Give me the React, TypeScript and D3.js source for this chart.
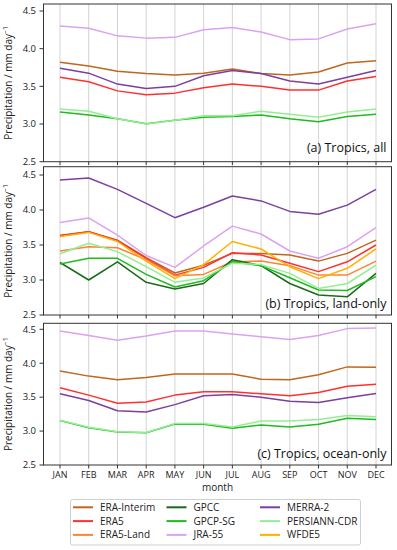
import React from 'react';
import * as d3 from 'd3';

const months = ['JAN', 'FEB', 'MAR', 'APR', 'MAY', 'JUN', 'JUL', 'AUG', 'SEP', 'OCT', 'NOV', 'DEC'];
const datasets = ['ERA-Interim', 'ERA5', 'ERA5-Land', 'GPCC', 'GPCP-SG', 'JRA-55', 'MERRA-2', 'PERSIANN-CDR', 'WFDE5'];
const colors = ['#c0661e', '#ff3030', '#ff8430', '#1b6a1b', '#1fbb1f', '#dca2f0', '#7d3f9f', '#94ee94', '#ffb000'];
const yTicks = [2.5, 3.0, 3.5, 4.0, 4.5];

// (a) tropics, all
const eraInterimAll = [3.82, 3.77, 3.70, 3.67, 3.65, 3.675, 3.73, 3.67, 3.65, 3.69, 3.81, 3.84];
const era5All = [3.62, 3.56, 3.44, 3.39, 3.41, 3.48, 3.53, 3.50, 3.45, 3.45, 3.57, 3.63];
const gpcpAll = [3.16, 3.12, 3.07, 3.005, 3.05, 3.09, 3.10, 3.12, 3.07, 3.03, 3.10, 3.13];
const jraAll = [4.30, 4.27, 4.17, 4.14, 4.15, 4.25, 4.28, 4.22, 4.12, 4.13, 4.26, 4.33];
const merraAll = [3.74, 3.675, 3.53, 3.47, 3.50, 3.64, 3.71, 3.67, 3.57, 3.53, 3.62, 3.71];
const persiannAll = [3.20, 3.17, 3.07, 3.00, 3.05, 3.11, 3.11, 3.17, 3.13, 3.09, 3.16, 3.20];

// (b) tropics, land-only
const eraInterimLand = [3.64, 3.69, 3.57, 3.32, 3.10, 3.21, 3.38, 3.38, 3.357, 3.27, 3.38, 3.57];
const era5Land = [3.63, 3.69, 3.56, 3.31, 3.07, 3.18, 3.39, 3.357, 3.238, 3.12, 3.26, 3.50];
const era5LandLand = [3.414, 3.476, 3.46, 3.29, 3.06, 3.08, 3.26, 3.27, 3.205, 3.07, 3.07, 3.27];
const gpccLand = [3.25, 3.00, 3.26, 2.967, 2.87, 2.95, 3.29, 3.205, 2.95, 2.786, 2.76, 3.095];
const gpcpLand = [3.23, 3.31, 3.31, 3.08, 2.90, 2.99, 3.26, 3.205, 3.033, 2.857, 2.85, 3.048];
const jraLand = [3.82, 3.886, 3.64, 3.35, 3.18, 3.486, 3.77, 3.657, 3.414, 3.31, 3.476, 3.748];
const merraLand = [4.43, 4.457, 4.295, 4.095, 3.89, 4.04, 4.20, 4.13, 3.98, 3.94, 4.07, 4.295];
const persiannLand = [3.376, 3.524, 3.405, 3.19, 2.967, 3.03, 3.24, 3.22, 3.095, 2.88, 2.95, 3.214];
const wfde5Land = [3.62, 3.68, 3.55, 3.27, 3.02, 3.22, 3.55, 3.443, 3.19, 3.02, 3.167, 3.443];

// (c) tropics, ocean-only
const eraInterimOcean = [3.887, 3.81, 3.755, 3.79, 3.84, 3.84, 3.84, 3.765, 3.755, 3.83, 3.946, 3.94];
const era5Ocean = [3.64, 3.53, 3.41, 3.43, 3.53, 3.58, 3.58, 3.55, 3.52, 3.57, 3.66, 3.69];
const gpcpOcean = [3.155, 3.05, 2.985, 2.975, 3.105, 3.10, 3.04, 3.09, 3.06, 3.10, 3.19, 3.17];
const jraOcean = [4.475, 4.41, 4.34, 4.40, 4.475, 4.475, 4.43, 4.39, 4.35, 4.41, 4.51, 4.52];
const merraOcean = [3.55, 3.45, 3.30, 3.28, 3.39, 3.52, 3.54, 3.50, 3.44, 3.42, 3.49, 3.555];
const persiannOcean = [3.16, 3.055, 2.99, 2.98, 3.11, 3.11, 3.06, 3.15, 3.15, 3.17, 3.23, 3.21];

const panels = [
  { label: '(a) Tropics, all', top: 4, y45: 11, bottom: 161.7, labelY: 152,
    series: [eraInterimAll, era5All, null, null, gpcpAll, jraAll, merraAll, persiannAll, null] },
  { label: '(b) Tropics, land-only', top: 166.7, y45: 175, bottom: 315, labelY: 308,
    series: [eraInterimLand, era5Land, era5LandLand, gpccLand, gpcpLand, jraLand, merraLand, persiannLand, wfde5Land] },
  { label: '(c) Tropics, ocean-only', top: 323.3, y45: 329.3, bottom: 465, labelY: 458,
    series: [eraInterimOcean, era5Ocean, null, null, gpcpOcean, jraOcean, merraOcean, persiannOcean, null] },
];

const font = "'Open Sans', 'DejaVu Sans', sans-serif";
const left = 43.5, right = 391.5;

export default function App() {
  const x = d3.scalePoint<string>().domain(months).range([60, 376]);
  const lastPanel = panels.length - 1;

  return (
    <svg width={397} height={550} style={{ position: 'absolute', left: 0, top: 0, background: '#fff' }}
      fontFamily={font}>
      {panels.map((p, pi) => {
        const y = d3.scaleLinear().domain([2.5, 4.5]).range([p.bottom, p.y45]);
        const line = d3.line<number>().x((_, i) => x(months[i]) as number).y(d => y(d));
        return (
          <g key={pi}>
            {months.map(m => (
              <line key={m} x1={x(m)} x2={x(m)} y1={p.top} y2={p.bottom} stroke='#d3d3d3' strokeWidth={1} />
            ))}
            {p.series.map((s, si) => s ? (
              <path key={si} d={line(s) || ''} fill='none' stroke={colors[si]} strokeWidth={1.5} strokeLinejoin='round' />
            ) : null)}
            <rect x={left} y={p.top} width={right - left} height={p.bottom - p.top} fill='none' stroke='#333' strokeWidth={1} />
            {yTicks.map(t => (
              <g key={t}>
                <line x1={left - 4} x2={left} y1={y(t)} y2={y(t)} stroke='#333' />
                <text x={left - 7.5} y={y(t) + 3.3} textAnchor='end' fontSize={9.5} fill='#222'>{t.toFixed(1)}</text>
              </g>
            ))}
            {months.map(m => (
              <line key={'t' + m} x1={x(m)} x2={x(m)} y1={p.bottom} y2={p.bottom + 3.5} stroke='#333' />
            ))}
            {pi === lastPanel && months.map(m => (
              <text key={'l' + m} x={x(m)} y={477.5} textAnchor='middle' fontSize={9} fill='#222'>{m}</text>
            ))}
            <text x={386.5} y={p.labelY} textAnchor='end' fontSize={12.5} fill='#111'>{p.label}</text>
            <text transform={`translate(12,${(p.top + p.bottom) / 2}) rotate(-90)`} textAnchor='middle'
              fontSize={10} fill='#222'>
              Precipitation / mm day<tspan dy={-4} fontSize={7}>−1</tspan>
            </text>
          </g>
        );
      })}
      <text x={(left + right) / 2} y={490.5} textAnchor='middle' fontSize={10} fill='#222'>month</text>
      <g>
        <rect x={70.5} y={499.5} width={290} height={45.5} rx={2} fill='#fff' stroke='#cfcfcf' />
        {datasets.map((d, i) => {
          const col = Math.floor(i / 3), row = i % 3;
          const lx = 73 + col * 93.5;
          const ly = 507.3 + row * 13.8;
          return (
            <g key={d}>
              <line x1={lx} x2={lx + 20} y1={ly} y2={ly} stroke={colors[i]} strokeWidth={2} />
              <text x={lx + 27} y={ly + 3.5} fontSize={10} fill='#222'>{d}</text>
            </g>
          );
        })}
      </g>
    </svg>
  );
}
